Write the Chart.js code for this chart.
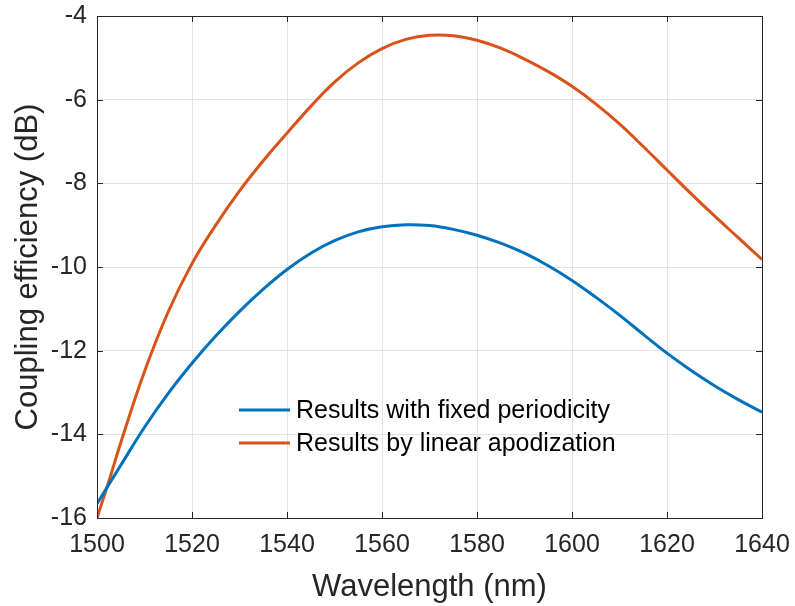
<!DOCTYPE html>
<html>
<head>
<meta charset="utf-8">
<script src="https://cdn.jsdelivr.net/npm/chart.js@4.4.1/dist/chart.umd.min.js"></script>
<style>
    html, body { margin: 0; padding: 0; background: #ffffff; }
    #wrap { width: 795px; height: 606px; }
</style>
</head>
<body>
<div id="wrap"><canvas id="ceChart" width="795" height="606"></canvas></div>
<script>
// wavelength samples (nm)
const wavelengths = [1500, 1502.5, 1505, 1510, 1515, 1520, 1525, 1530, 1535, 1540, 1545, 1550, 1555, 1560, 1565,
    1570, 1575, 1580, 1585, 1590, 1595, 1600, 1605, 1610, 1615, 1620, 1625, 1630, 1635, 1640];

// coupling efficiency (dB) - fixed periodicity
const fixedPeriod = [-15.66, -15.2, -14.74, -13.83, -13.02, -12.3, -11.65, -11.06, -10.53, -10.06, -9.67, -9.37, -9.16, -9.04, -8.99,
    -9.01, -9.1, -9.24, -9.43, -9.67, -9.97, -10.32, -10.72, -11.15, -11.61, -12.06, -12.47, -12.84, -13.17, -13.47];

// coupling efficiency (dB) - linear apodization
const linearApod = [-16, -15.12, -14.2, -12.5, -11.07, -9.92, -9.0, -8.18, -7.46, -6.8, -6.16, -5.58, -5.12, -4.78, -4.56,
    -4.46, -4.47, -4.58, -4.77, -5.03, -5.33, -5.68, -6.1, -6.58, -7.12, -7.68, -8.24, -8.78, -9.3, -9.82];

const seriesNames = ['Results with fixed periodicity', 'Results by linear apodization'];
const seriesColors = ['#0072BD', '#D95319'];

const xTicks = [1500, 1520, 1540, 1560, 1580, 1600, 1620, 1640];
const yTicks = [-16, -14, -12, -10, -8, -6, -4];

const axisColor = '#262626';
const fontFamily = 'Arial, "Liberation Sans", Helvetica, sans-serif';

function toPoints(ys) {
    return wavelengths.map((x, i) => ({ x: x, y: ys[i] }));
}

// box around the plot + inward tick marks (MATLAB style)
const boxPlugin = {
    id: 'boxPlugin',
    afterDraw(chart) {
        const { ctx, chartArea: a, scales } = chart;
        ctx.save();
        ctx.strokeStyle = axisColor;
        ctx.lineWidth = 1;
        ctx.strokeRect(a.left + 0.5, a.top + 0.5, a.right - a.left, a.bottom - a.top);
        const len = 6;
        ctx.beginPath();
        xTicks.forEach(v => {
            const px = Math.round(scales.x.getPixelForValue(v)) + 0.5;
            ctx.moveTo(px, a.bottom); ctx.lineTo(px, a.bottom - len);
            ctx.moveTo(px, a.top); ctx.lineTo(px, a.top + len);
        });
        yTicks.forEach(v => {
            const py = Math.round(scales.y.getPixelForValue(v)) + 0.5;
            ctx.moveTo(a.left, py); ctx.lineTo(a.left + len, py);
            ctx.moveTo(a.right, py); ctx.lineTo(a.right - len, py);
        });
        ctx.stroke();
        ctx.restore();
    }
};

// legend drawn inside the plot, no frame
const legendPlugin = {
    id: 'innerLegend',
    afterDatasetsDraw(chart) {
        const { ctx, chartArea: a } = chart;
        ctx.save();
        ctx.font = '25px ' + fontFamily;
        ctx.textBaseline = 'middle';
        const x0 = a.left + 142;
        const y0 = a.top + 394;
        chart.data.datasets.forEach((ds, i) => {
            const y = y0 + i * 33;
            ctx.strokeStyle = ds.borderColor;
            ctx.lineWidth = 3;
            ctx.beginPath();
            ctx.moveTo(x0, y);
            ctx.lineTo(x0 + 51, y);
            ctx.stroke();
            ctx.fillStyle = '#000000';
            ctx.fillText(ds.label, x0 + 57, y + 1);
        });
        ctx.restore();
    }
};

const chart = new Chart(document.getElementById('ceChart').getContext('2d'), {
    type: 'line',
    data: {
        datasets: [
            {
                label: seriesNames[0],
                data: toPoints(fixedPeriod),
                borderColor: seriesColors[0],
                borderWidth: 3,
                pointRadius: 0,
                tension: 0.4,
                fill: false
            },
            {
                label: seriesNames[1],
                data: toPoints(linearApod),
                borderColor: seriesColors[1],
                borderWidth: 3,
                pointRadius: 0,
                tension: 0.4,
                fill: false
            }
        ]
    },
    options: {
        responsive: false,
        animation: false,
        layout: { padding: { left: 0, right: 33, top: 16, bottom: 0 } },
        plugins: {
            legend: { display: false },
            tooltip: { enabled: false }
        },
        scales: {
            x: {
                type: 'linear',
                min: 1500,
                max: 1640,
                afterBuildTicks: s => { s.ticks = xTicks.map(v => ({ value: v })); },
                afterFit: s => { s.height = 88; s.paddingLeft = 0; s.paddingRight = 0; },
                grid: { color: '#e3e3e3', drawTicks: false },
                border: { display: false },
                ticks: {
                    color: axisColor,
                    padding: 12,
                    font: { size: 25, family: fontFamily },
                    callback: v => String(v)
                },
                title: {
                    display: true,
                    text: 'Wavelength (nm)',
                    color: axisColor,
                    font: { size: 31, family: fontFamily },
                    padding: { top: 0, bottom: 0 }
                }
            },
            y: {
                type: 'linear',
                min: -16,
                max: -4,
                afterBuildTicks: s => { s.ticks = yTicks.map(v => ({ value: v })); },
                afterFit: s => { s.width = 97; s.paddingTop = 0; s.paddingBottom = 0; },
                grid: { color: '#e3e3e3', drawTicks: false },
                border: { display: false },
                ticks: {
                    color: axisColor,
                    padding: 10,
                    font: { size: 25, family: fontFamily },
                    callback: v => String(v)
                },
                title: {
                    display: true,
                    text: 'Coupling efficiency (dB)',
                    color: axisColor,
                    font: { size: 31, family: fontFamily },
                    padding: { top: 10, bottom: 0 }
                }
            }
        }
    },
    plugins: [boxPlugin, legendPlugin]
});
</script>
</body>
</html>
